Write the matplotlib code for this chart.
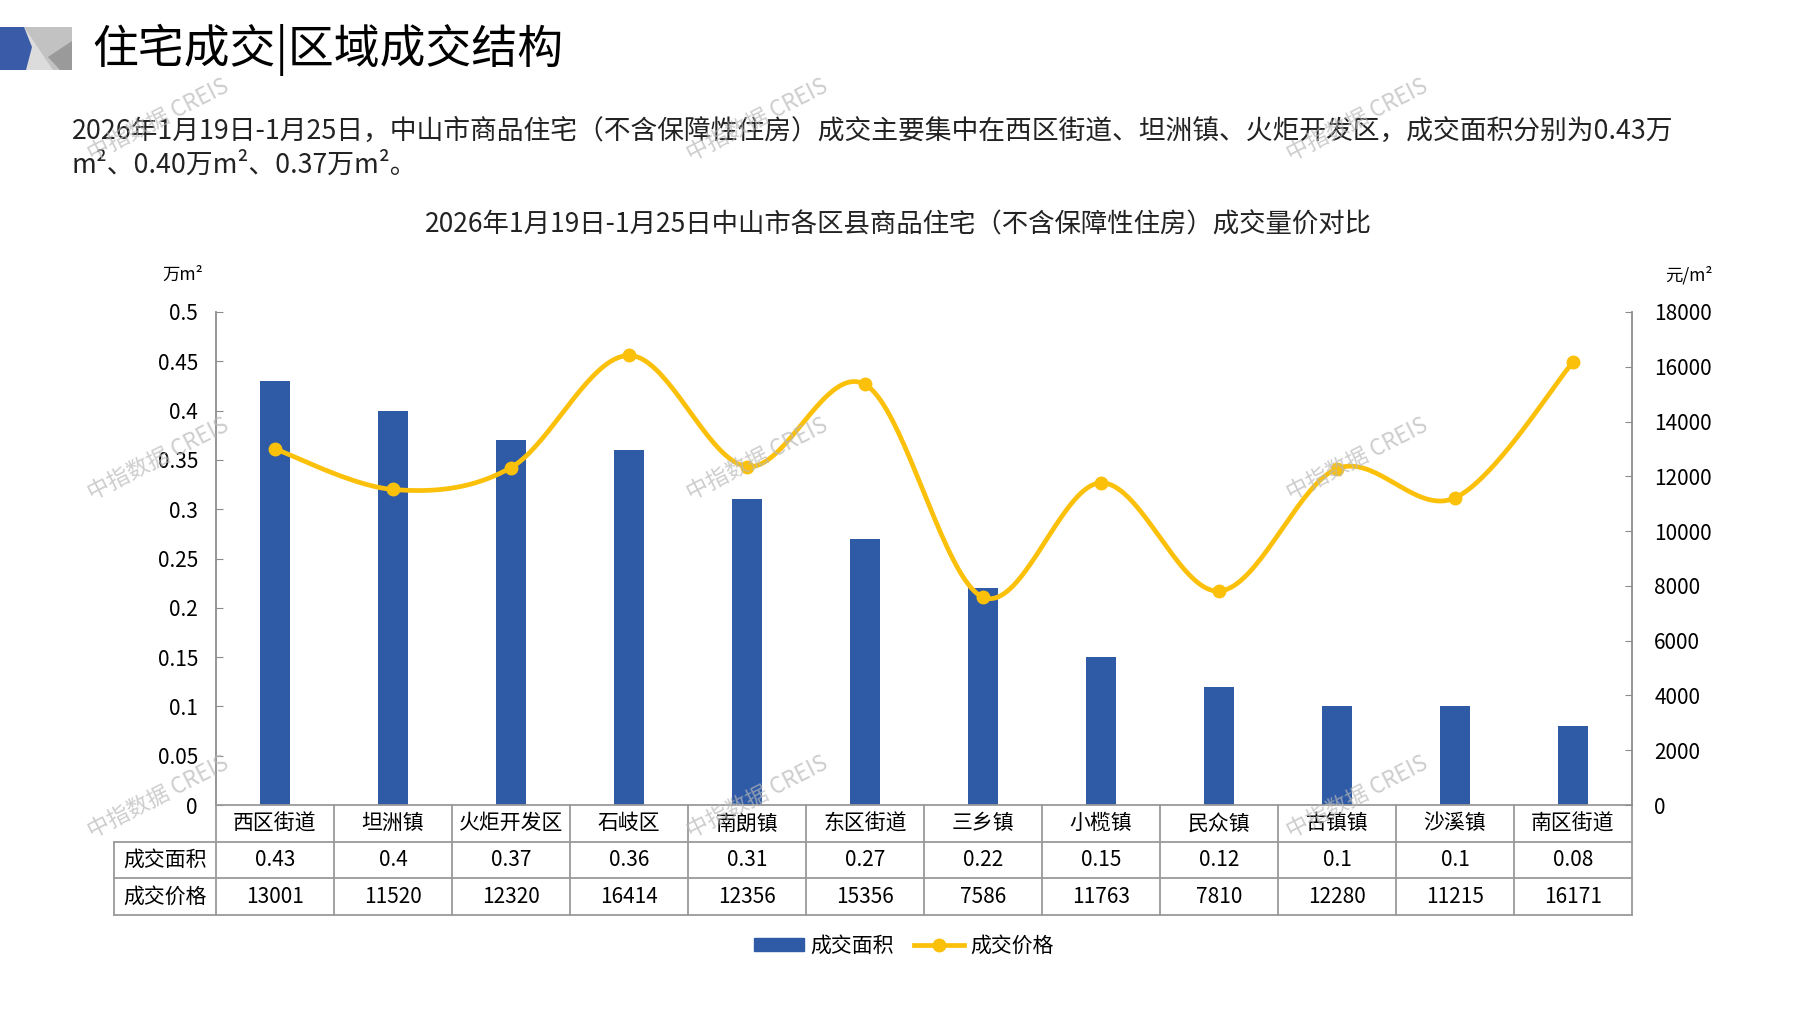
import matplotlib
matplotlib.use("Agg")
import matplotlib.pyplot as plt
import numpy as np
from matplotlib.patches import Polygon, Patch
from matplotlib.lines import Line2D

plt.rcParams['font.family'] = ['Noto Sans CJK SC', 'DejaVu Sans']

# data
regions = ["西区街道", "坦洲镇", "火炬开发区", "石岐区", "南朗镇", "东区街道",
           "三乡镇", "小榄镇", "民众镇", "古镇镇", "沙溪镇", "南区街道"]
area = [0.43, 0.4, 0.37, 0.36, 0.31, 0.27, 0.22, 0.15, 0.12, 0.1, 0.1, 0.08]
price = [13001, 11520, 12320, 16414, 12356, 15356, 7586, 11763, 7810, 12280, 11215, 16171]
area_ticks = [0, 0.05, 0.1, 0.15, 0.2, 0.25, 0.3, 0.35, 0.4, 0.45, 0.5]
price_ticks = [0, 2000, 4000, 6000, 8000, 10000, 12000, 14000, 16000, 18000]
row_names = ["成交面积", "成交价格"]

BLUE = "#2E5AA6"
YEL = "#FBC00A"
GREY = "#8C8C8C"
TGREY = "#9A9A9A"

W, H = 1797, 1010
fig = plt.figure(figsize=(W / 100, H / 100), dpi=100)


def fx(x):
    return x / W


def fy(y):
    return 1 - y / H


def smooth(xs, ys, n=40):
    # excel-like smoothed line (catmull-rom as bezier)
    pts = np.column_stack([xs, ys]).astype(float)
    P = np.vstack([pts[0], pts, pts[-1]])
    out = []
    for i in range(1, len(P) - 2):
        p0, p1, p2, p3 = P[i - 1], P[i], P[i + 1], P[i + 2]
        c1 = p1 + (p2 - p0) / 6
        c2 = p2 - (p3 - p1) / 6
        t = np.linspace(0, 1, n)[:, None]
        seg = (1 - t) ** 3 * p1 + 3 * (1 - t) ** 2 * t * c1 + 3 * (1 - t) * t ** 2 * c2 + t ** 3 * p2
        out.append(seg)
    return np.vstack(out)


# logo
logo = [
    ([(0, 27), (72, 27), (72, 70), (0, 70)], "#DCDCDC"),
    ([(24, 27), (72, 27), (72, 70), (53, 70)], "#C2C2C2"),
    ([(48, 57), (72, 41), (72, 70), (60, 70)], "#9A9A9A"),
    ([(0, 27), (24, 27), (32, 47), (26, 70), (0, 70)], "#3A5BA8"),
]
for pts, c in logo:
    fig.add_artist(Polygon([(fx(a), fy(b)) for a, b in pts], closed=True,
                           facecolor=c, edgecolor="none", transform=fig.transFigure))

fig.text(fx(92), fy(50), "住宅成交|区域成交结构", fontsize=33, va="center", ha="left")
fig.text(fx(72), fy(131),
         "2026年1月19日-1月25日，中山市商品住宅（不含保障性住房）成交主要集中在西区街道、坦洲镇、火炬开发区，成交面积分别为0.43万",
         fontsize=19.3, va="center", ha="left", color="#222222")
fig.text(fx(72), fy(165), "m²、0.40万m²、0.37万m²。", fontsize=19.3, va="center", ha="left", color="#222222")
fig.text(fx(898), fy(225), "2026年1月19日-1月25日中山市各区县商品住宅（不含保障性住房）成交量价对比",
         fontsize=19, va="center", ha="center", color="#222222")
fig.text(fx(183), fy(275), "万m²", fontsize=12.5, va="center", ha="center")
fig.text(fx(1689), fy(275), "元/m²", fontsize=12.5, va="center", ha="center")

ax = fig.add_axes([fx(216), fy(805), (1632 - 216) / W, (805 - 312) / H])
x = np.arange(len(regions))
ax.bar(x, area, width=0.25, color=BLUE, zorder=2)
ax.set_xlim(-0.5, len(regions) - 0.5)
ax.set_ylim(0, 0.5)
ax.set_yticks(area_ticks)
ax.set_yticklabels([f"{v:g}" for v in area_ticks])
ax.set_xticks([])
ax.tick_params(axis="y", direction="in", length=5, color=GREY, labelsize=15, pad=13)
for s in ["top", "right"]:
    ax.spines[s].set_visible(False)
ax.spines["left"].set_color(GREY)
ax.spines["bottom"].set_color(TGREY)
ax.spines["left"].set_linewidth(1.3)
ax.spines["bottom"].set_linewidth(1.3)

ax2 = ax.twinx()
ax2.set_ylim(0, 18000)
ax2.set_yticks(price_ticks)
ax2.set_yticklabels([str(v) for v in price_ticks])
ax2.tick_params(axis="y", direction="in", length=5, color=GREY, labelsize=15, pad=16)
for s in ["top", "left", "bottom"]:
    ax2.spines[s].set_visible(False)
ax2.spines["right"].set_color(GREY)
ax2.spines["right"].set_linewidth(1.3)
curve = smooth(x, price)
ax2.plot(curve[:, 0], curve[:, 1], color=YEL, lw=3.4, solid_capstyle="round", zorder=3)
ax2.plot(x, price, "o", color=YEL, ms=9, zorder=4)

# table under the axis
trans = ax.get_xaxis_transform()
rh = 36.7 / 493
left = -1.365
for k in range(len(regions) + 1):
    ax.plot([k - 0.5, k - 0.5], [0, -3 * rh], transform=trans, clip_on=False, color=TGREY, lw=1.3)
ax.plot([left, left], [-rh, -3 * rh], transform=trans, clip_on=False, color=TGREY, lw=1.3)
for r in range(1, 4):
    ax.plot([left, len(regions) - 0.5], [-r * rh, -r * rh], transform=trans, clip_on=False, color=TGREY, lw=1.3)
for i in range(len(regions)):
    ax.text(i, -0.5 * rh, regions[i], transform=trans, ha="center", va="center", fontsize=15)
    ax.text(i, -1.5 * rh, f"{area[i]:g}", transform=trans, ha="center", va="center", fontsize=15)
    ax.text(i, -2.5 * rh, str(price[i]), transform=trans, ha="center", va="center", fontsize=15)
for j, name in enumerate(row_names):
    ax.text((left - 0.5) / 2, -(j + 1.5) * rh, name, transform=trans, ha="center", va="center", fontsize=15)

handles = [Patch(color=BLUE), Line2D([], [], color=YEL, lw=3.4, marker="o", ms=9)]
fig.legend(handles, ["成交面积", "成交价格"], loc="center", bbox_to_anchor=(fx(904), fy(946)),
           ncol=2, frameon=False, fontsize=15, handlelength=2.4, handleheight=0.55,
           columnspacing=1.0, handletextpad=0.3)

# watermarks
for wx in [158, 757, 1357]:
    for wy in [120, 459, 797]:
        fig.text(fx(wx), fy(wy), "中指数据 CREIS", rotation=27, color="#B8B8B8", alpha=0.7,
                 fontsize=16, ha="center", va="center", zorder=10)

fig.savefig("out.png", dpi=100)
